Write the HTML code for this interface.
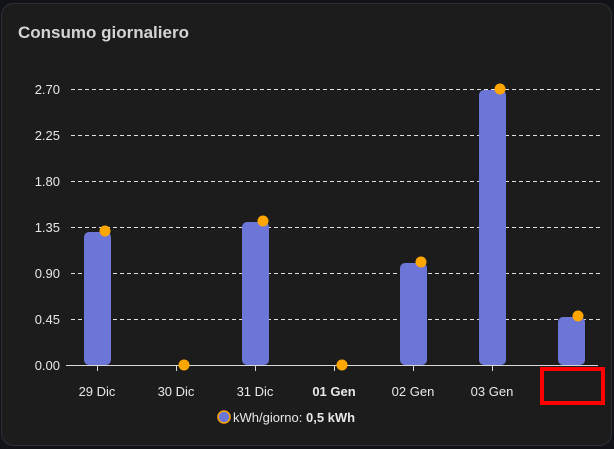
<!DOCTYPE html>
<html><head><style>
body{margin:0;width:614px;height:449px;background:#111318;overflow:hidden;font-family:"Liberation Sans",sans-serif}
</style></head><body>
<svg width="614" height="449" xmlns="http://www.w3.org/2000/svg" style="position:absolute;left:0;top:0">
<rect x="1.5" y="3.5" width="610" height="442" rx="12" fill="#1c1c1c" stroke="#2e2f33"/>
<text x="18" y="38" font-size="17" font-weight="bold" fill="#d4d4d4">Consumo giornaliero</text>
<g stroke="#e0e0e0" stroke-dasharray="4,3" stroke-width="1">
<line x1="71" x2="600" y1="89.5" y2="89.5"/><line x1="71" x2="600" y1="135.5" y2="135.5"/>
<line x1="71" x2="600" y1="181.5" y2="181.5"/><line x1="71" x2="600" y1="227.5" y2="227.5"/>
<line x1="71" x2="600" y1="273.5" y2="273.5"/><line x1="71" x2="600" y1="319.5" y2="319.5"/>
</g>
<g font-size="13" fill="#e8e8e8" text-anchor="end">
<text x="60" y="94">2.70</text><text x="60" y="140">2.25</text><text x="60" y="186">1.80</text>
<text x="60" y="232">1.35</text><text x="60" y="278">0.90</text><text x="60" y="324">0.45</text><text x="60" y="370">0.00</text>
</g>
<g fill="#6b76d6">
<rect x="84" y="232" width="27" height="133" rx="5"/>
<rect x="242" y="222" width="27" height="143" rx="5"/>
<rect x="400" y="263" width="27" height="102" rx="5"/>
<rect x="479" y="90" width="27" height="275" rx="5"/>
<rect x="558" y="317" width="27" height="48" rx="5"/>
</g>
<line x1="66" x2="598" y1="365.5" y2="365.5" stroke="#d8d8d8"/>
<g stroke="#d8d8d8"><line x1="97.5" x2="97.5" y1="365" y2="371"/><line x1="176.5" x2="176.5" y1="365" y2="371"/><line x1="255.5" x2="255.5" y1="365" y2="371"/><line x1="334.5" x2="334.5" y1="365" y2="371"/><line x1="413.5" x2="413.5" y1="365" y2="371"/><line x1="492.5" x2="492.5" y1="365" y2="371"/></g>
<g fill="#ffa600">
<circle cx="105" cy="231" r="5.5"/><circle cx="184" cy="365" r="5.5"/><circle cx="263" cy="221" r="5.5"/>
<circle cx="342" cy="365" r="5.5"/><circle cx="421" cy="262" r="5.5"/><circle cx="500" cy="89" r="5.5"/><circle cx="578" cy="316" r="5.5"/>
</g>
<g font-size="13" fill="#e8e8e8" text-anchor="middle">
<text x="97" y="396">29 Dic</text><text x="176" y="396">30 Dic</text><text x="255" y="396">31 Dic</text>
<text x="334" y="396" font-weight="bold">01 Gen</text><text x="413" y="396">02 Gen</text><text x="492" y="396">03 Gen</text>
</g>
<rect x="542" y="369" width="61" height="34" fill="none" stroke="#ff0000" stroke-width="4"/>
<circle cx="224" cy="417" r="6" fill="#6b76d6" stroke="#ffa600" stroke-width="1.5"/>
<text x="233" y="422" font-size="13" fill="#e8e8e8">kWh/giorno: <tspan font-weight="bold">0,5 kWh</tspan></text>
</svg>
</body></html>
